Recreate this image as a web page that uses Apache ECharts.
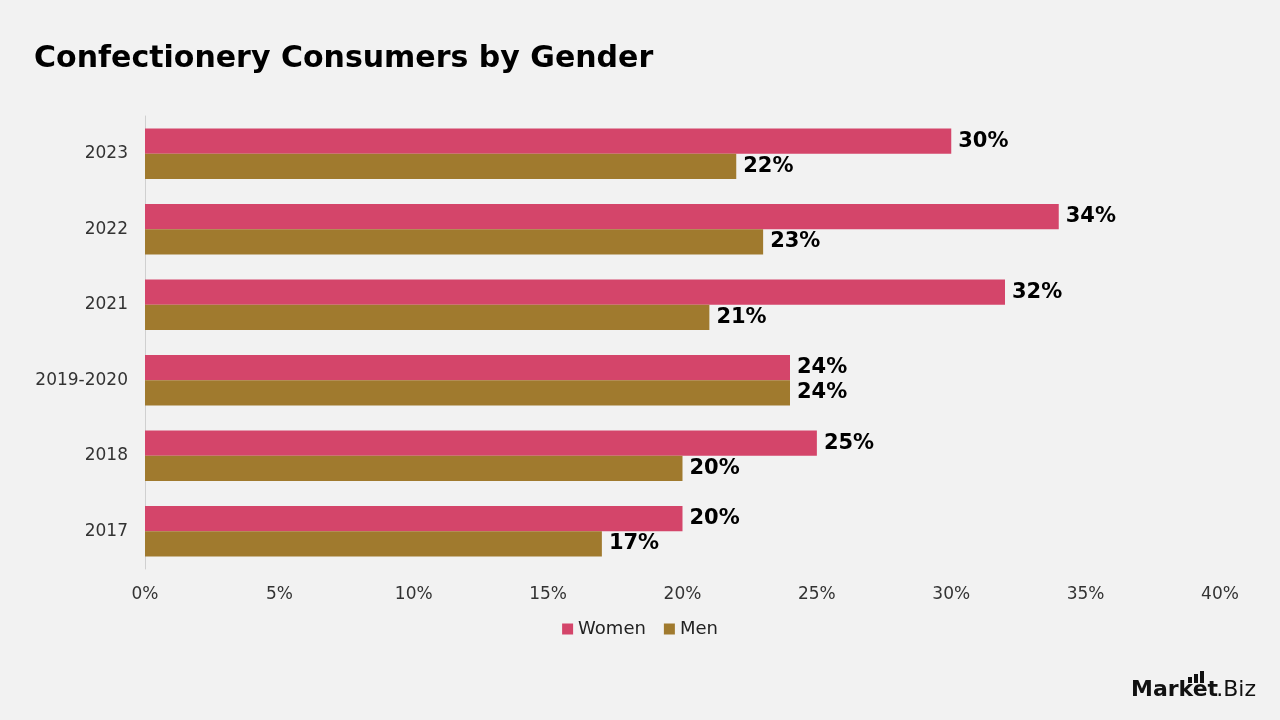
<!DOCTYPE html>
<html><head><meta charset="utf-8">
<script src="https://cdn.jsdelivr.net/npm/echarts@6/dist/echarts.min.js"></script>
<style>html,body{margin:0;padding:0;background:#f2f2f2;}#c{width:1280px;height:720px;}</style>
</head><body><div id="c"></div>
<script>
const categories = ['2017', '2018', '2019-2020', '2021', '2022', '2023'];
const women = [20, 25, 24, 32, 34, 30];
const men = [17, 20, 24, 21, 23, 22];
const xTicks = [0, 5, 10, 15, 20, 25, 30, 35, 40];

const chart = echarts.init(document.getElementById('c'));
const FONT = 'DejaVu Sans, sans-serif';
const labelCfg = {show: true, position: 'right', distance: 7, formatter: p => p.value + '%',
  fontFamily: FONT, fontWeight: 'bold', fontSize: 21, color: '#000'};
chart.setOption({
  backgroundColor: '#f2f2f2',
  title: {text: 'Confectionery Consumers by Gender', left: 29, top: 39,
    textStyle: {fontFamily: FONT, fontWeight: 'bold', fontSize: 30, color: '#000'}},
  grid: {left: 145, right: 60, top: 116, bottom: 151, containLabel: false},
  legend: {data: ['Women', 'Men'], bottom: 77, left: 'center', icon: 'rect', itemWidth: 11, itemHeight: 11, itemGap: 18,
    textStyle: {fontFamily: FONT, fontSize: 18, color: '#222'}},
  xAxis: {type: 'value', min: 0, max: 40, interval: 5,
    axisLabel: {formatter: v => xTicks.includes(v) ? v + '%' : '', fontFamily: FONT, fontSize: 17, color: '#333', margin: 17},
    splitLine: {show: false}, axisLine: {show: false}, axisTick: {show: false}},
  yAxis: {type: 'category', data: categories,
    axisLine: {show: true, lineStyle: {color: '#d0d0d0'}}, axisTick: {show: false},
    axisLabel: {fontFamily: FONT, fontSize: 17, color: '#333', margin: 17}},
  series: [
    {name: 'Women', type: 'bar', data: women, itemStyle: {color: '#D4456A'}, barGap: '0%', barCategoryGap: '33%', label: labelCfg},
    {name: 'Men', type: 'bar', data: men, itemStyle: {color: '#A07A2E'}, barGap: '0%', barCategoryGap: '33%', label: labelCfg}
  ],
  graphic: [
    {type: 'text', style: {x: 1131, y: 701, text: 'Market', textVerticalAlign: 'bottom', font: 'bold 22px ' + FONT, fill: '#111'}},
    {type: 'text', style: {x: 1256, y: 701, text: '.Biz', textAlign: 'right', textVerticalAlign: 'bottom', font: '22px ' + FONT, fill: '#111'}},
    {type: 'rect', shape: {x: 1188, y: 677, width: 4, height: 6}, style: {fill: '#111'}},
    {type: 'rect', shape: {x: 1194, y: 674, width: 4, height: 9}, style: {fill: '#111'}},
    {type: 'rect', shape: {x: 1200, y: 671, width: 4, height: 12}, style: {fill: '#111'}}
  ]
});
</script></body></html>
